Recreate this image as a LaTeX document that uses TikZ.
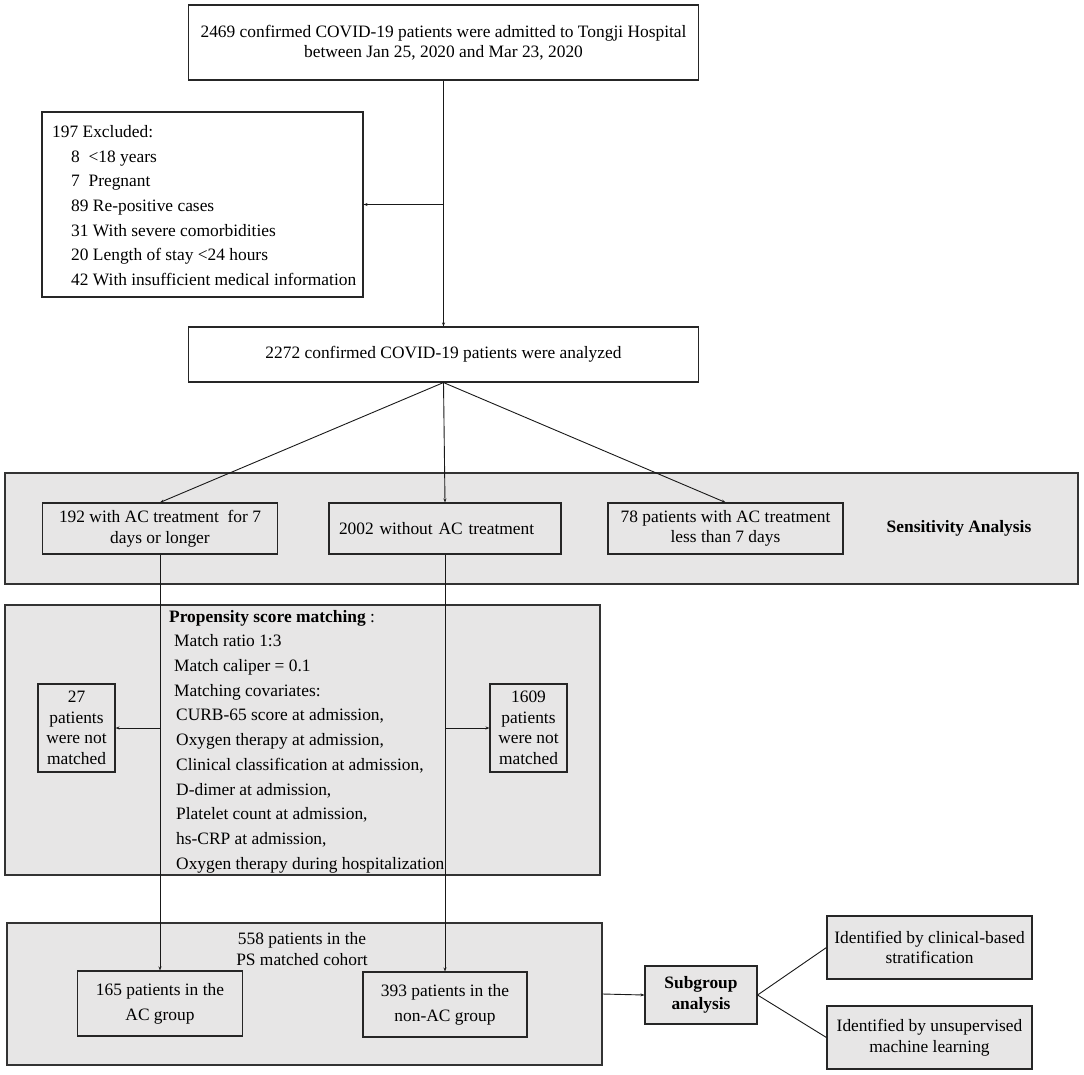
\documentclass[tikz,border=0pt]{standalone}
\usepackage{fontspec}
\setmainfont{Liberation Serif}
\usetikzlibrary{arrows.meta}
\definecolor{panelgray}{RGB}{231,230,230}
\newcommand{\fsz}{\fontsize{17.4}{20.5}\selectfont}
\newcommand{\fszwide}{\fontsize{17.4}{24.6}\selectfont}
\newcommand{\fszmid}{\fontsize{17.4}{25}\selectfont}
\begin{document}
\begin{tikzpicture}[x=1pt,y=-1pt,
  box/.style={draw=black!85, line width=1.1pt, inner sep=0pt, align=center, font=\fsz},
  wbox/.style={box, fill=white},
  gbox/.style={box, fill=panelgray},
  panel/.style={draw=black!80, line width=1.1pt, fill=panelgray, inner sep=0pt},
  conn/.style={draw=black!90, line width=0.9pt},
  arr/.style={conn, -{Stealth[length=4pt,width=3pt]}},
  lbl/.style={inner sep=0pt, font=\fsz}
]
\useasboundingbox (0,0) rectangle (1084,1074);
\fill[white] (0,0) rectangle (1084,1074);

\node[wbox, minimum width=510pt, minimum height=75pt] (top) at (443.5,42.5)
  {2469 confirmed COVID-19 patients were admitted to Tongji Hospital\\between Jan 25, 2020 and Mar 23, 2020};

\node[wbox, minimum width=321pt, minimum height=185pt] (excl) at (202.5,204.5) {};
\node[lbl, anchor=west, align=left, font=\fszwide] (excltxt) at (52,205.5)
  {197 Excluded:\\
   \hspace*{19pt}8\ \ <18 years\\
   \hspace*{19pt}7\ \ Pregnant\\
   \hspace*{19pt}89 Re-positive cases\\
   \hspace*{19pt}31 With severe comorbidities\\
   \hspace*{19pt}20 Length of stay <24 hours\\
   \hspace*{19pt}42 With insufficient medical information};

\node[wbox, minimum width=510pt, minimum height=55pt] (ana) at (443.5,354.5)
  {2272 confirmed COVID-19 patients were analyzed};

\node[panel, minimum width=1073pt, minimum height=111pt] (sens) at (541.5,528.5) {};
\node[gbox, minimum width=235pt, minimum height=51pt] (b192) at (160,528.5)
  {192 with AC treatment\ \ for 7\\days or longer};
\node[gbox, minimum width=232pt, minimum height=51pt, text width=212pt, align=left, inner xsep=10pt] (b2002) at (445,528.5)
  {2002 without AC treatment};
\node[gbox, minimum width=235pt, minimum height=51pt] (b78) at (725.5,528.5)
  {78 patients with AC treatment\\less than 7 days};
\node[lbl, font=\fsz\bfseries] (senslbl) at (959,528) {Sensitivity Analysis};

\node[panel, minimum width=595pt, minimum height=270pt] (psm) at (302.5,740) {};
\node[lbl, anchor=west, align=left, font=\fontsize{17.4}{24.7}\selectfont] (psmtxt) at (169,741.5)
  {\textbf{Propensity score matching} :\\
   \hspace*{5pt}Match ratio 1:3\\
   \hspace*{5pt}Match caliper = 0.1\\
   \hspace*{5pt}Matching covariates:\\
   \hspace*{7pt}CURB-65 score at admission,\\
   \hspace*{7pt}Oxygen therapy at admission,\\
   \hspace*{7pt}Clinical classification at admission,\\
   \hspace*{7pt}D-dimer at admission,\\
   \hspace*{7pt}Platelet count at admission,\\
   \hspace*{7pt}hs-CRP at admission,\\
   \hspace*{7pt}Oxygen therapy during hospitalization};

\node[gbox, minimum width=77pt, minimum height=88pt] (b27) at (76.5,728)
  {27\\patients\\were not\\matched};
\node[gbox, minimum width=77pt, minimum height=88pt] (b1609) at (528.5,728)
  {1609\\patients\\were not\\matched};

\node[panel, minimum width=595pt, minimum height=142pt] (cohort) at (304.5,994) {};
\node[lbl, align=center] (cohortlbl) at (302,949) {558 patients in the\\PS matched cohort};
\node[gbox, minimum width=165pt, minimum height=65pt, font=\fszmid] (b165) at (160,1003.5)
  {165 patients in the\\AC group};
\node[gbox, minimum width=164pt, minimum height=65pt, font=\fszmid] (b393) at (445,1004.5)
  {393 patients in the\\non-AC group};

\node[gbox, minimum width=112pt, minimum height=58pt, font=\fsz\bfseries] (sub) at (701,995)
  {Subgroup\\analysis};
\node[gbox, minimum width=205pt, minimum height=63pt] (id1) at (929.5,947.5)
  {Identified by clinical-based\\stratification};
\node[gbox, minimum width=205pt, minimum height=63pt] (id2) at (929.5,1037.5)
  {Identified by unsupervised\\machine learning};

% connectors
\draw[arr] (top.south) -- (ana.north);
\coordinate (j1) at (top.south |- excl.east);
\draw[arr] (j1) -- (excl.east);
\draw[arr] (ana.south) -- (b192.north);
\draw[arr] (ana.south) -- (b2002.north);
\draw[arr] (ana.south) -- (b78.north);
\draw[arr] (b192.south) -- (b165.north);
\draw[arr] (b2002.south) -- (b393.north);
\coordinate (jl) at (b192.south |- b27.east);
\draw[arr] (jl) -- (b27.east);
\coordinate (jr) at (b2002.south |- b1609.west);
\draw[arr] (jr) -- (b1609.west);
\draw[arr] (cohort.east) -- (sub.west);
\draw[conn] (sub.east) -- (id1.west);
\draw[conn] (sub.east) -- (id2.west);
\end{tikzpicture}
\end{document}
